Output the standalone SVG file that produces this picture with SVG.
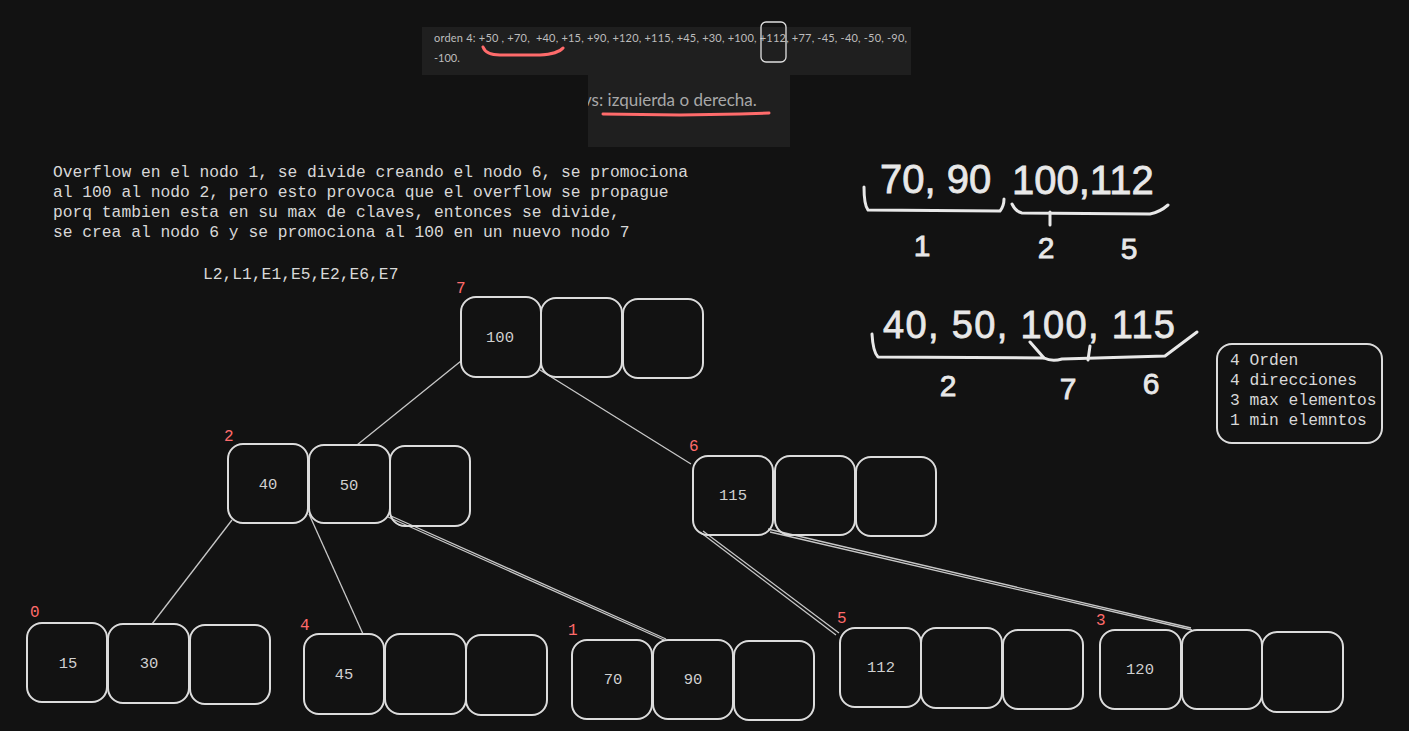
<svg xmlns="http://www.w3.org/2000/svg" width="1409" height="731" viewBox="0 0 1409 731">
<defs>
<style>
.bg{fill:#121212}
.panel{fill:#1f1f1f}
.cell{fill:none;stroke:#dcdcdc;stroke-width:2}
.key{font-family:"Liberation Mono","DejaVu Sans Mono",monospace;font-size:15.5px;fill:#d0d0d0;text-anchor:middle}
.lbl{font-family:"Liberation Mono","DejaVu Sans Mono",monospace;font-size:16px;fill:#ff6b6b}
.mono{font-family:"Liberation Mono","DejaVu Sans Mono",monospace;font-size:16.3px;fill:#d8d8d8}
.hand{font-family:"Liberation Sans","DejaVu Sans",sans-serif;fill:#e8e8e8;stroke:#e8e8e8;stroke-width:0.8}
.hstroke{fill:none;stroke:#e8e8e8;stroke-width:3;stroke-linecap:round;stroke-linejoin:round}
.red{fill:none;stroke:#ff6b6b;stroke-width:3;stroke-linecap:round}
.edge{stroke:#c8c8c8;stroke-width:1.3;fill:none}
</style>
<clipPath id="p2"><rect x="588" y="75" width="202" height="72"/></clipPath>
</defs>
<rect class="bg" x="0" y="0" width="1409" height="731"/>

<g id="screenshot">
<rect class="panel" x="422" y="27" width="489" height="48"/>
<rect class="panel" x="588" y="75" width="202" height="72"/>
<text x="434" y="42" style="white-space:pre" font-family="Lato,'Liberation Sans',sans-serif" font-size="11" fill="#bdbdbd" textLength="473" lengthAdjust="spacing">orden 4: +50 , +70,  +40, +15, +90, +120, +115, +45, +30, +100, +112, +77, -45, -40, -50, -90,</text>
<text x="434" y="62" font-family="Lato,'Liberation Sans',sans-serif" font-size="11" fill="#bdbdbd">-100.</text>
<path class="red" d="M483 47 Q486 55 500 55 L540 55 Q558 54 563 48"/>
<rect x="761" y="22" width="25" height="40" rx="5" fill="none" stroke="#e0e0e0" stroke-width="1.3"/>
<text x="583" y="106" clip-path="url(#p2)" font-family="Lato,'Liberation Sans',sans-serif" font-size="17" fill="#a8a8a8">vs: izquierda o derecha.</text>
<path class="red" d="M603 114 L680 115 L740 114 L769 113"/>
</g>

<g id="explanation">
<text class="mono" x="53" y="177">Overflow en el nodo 1, se divide creando el nodo 6, se promociona</text>
<text class="mono" x="53" y="197">al 100 al nodo 2, pero esto provoca que el overflow se propague</text>
<text class="mono" x="53" y="217">porq tambien esta en su max de claves, entonces se divide,</text>
<text class="mono" x="53" y="237">se crea al nodo 6 y se promociona al 100 en un nuevo nodo 7</text>
<text class="mono" x="203" y="279">L2,L1,E1,E5,E2,E6,E7</text>
</g>

<g id="handwritten1">
<text class="hand" x="880" y="193" font-size="40">70, 90</text>
<text class="hand" x="1012" y="194" font-size="40">100,112</text>
<path class="hstroke" d="M864 187 Q864 205 868 210 L1000 211 Q1004 206 1004 199"/>
<path class="hstroke" d="M1012 204 Q1016 212 1022 213 L1150 214 Q1160 212 1168 205"/>
<path class="hstroke" d="M1050 212 L1050 225"/>
<text class="hand" x="922" y="256" font-size="30" text-anchor="middle">1</text>
<text class="hand" x="1046" y="258" font-size="30" text-anchor="middle">2</text>
<text class="hand" x="1129" y="259" font-size="30" text-anchor="middle">5</text>
</g>

<g id="handwritten2">
<text class="hand" x="883" y="338" font-size="38" textLength="292" lengthAdjust="spacing">40, 50, 100, 115</text>
<path class="hstroke" d="M872 334 Q873 352 878 357 L1044 358 L1030 342"/>
<path class="hstroke" d="M1044 358 Q1052 362 1062 359 L1165 356 L1197 332"/>
<path class="hstroke" d="M1090 346 L1088 360"/>
<text class="hand" x="948" y="396" font-size="30" text-anchor="middle">2</text>
<text class="hand" x="1068" y="399" font-size="30" text-anchor="middle">7</text>
<text class="hand" x="1151" y="394" font-size="30" text-anchor="middle">6</text>
</g>

<g id="legend">
<rect class="cell" x="1217" y="344" width="165" height="99" rx="15"/>
<text class="mono" x="1230" y="365">4 Orden</text>
<text class="mono" x="1230" y="385">4 direcciones</text>
<text class="mono" x="1230" y="405">3 max elementos</text>
<text class="mono" x="1230" y="425">1 min elemntos</text>
</g>

<g id="connectors">
<line class="edge" x1="461" y1="361" x2="357" y2="445"/>
<line class="edge" x1="540" y1="370" x2="691" y2="464"/>
<line class="edge" x1="232" y1="520" x2="152" y2="624"/>
<line class="edge" x1="309" y1="514" x2="363" y2="634"/>
<line class="edge" x1="388" y1="517" x2="664" y2="640"/>
<line class="edge" x1="391" y1="516" x2="666" y2="639"/>
<line class="edge" x1="700" y1="532" x2="836" y2="635"/>
<line class="edge" x1="703" y1="531" x2="839" y2="633"/>
<line class="edge" x1="768" y1="529" x2="1191" y2="628"/>
<line class="edge" x1="770" y1="532" x2="1192" y2="630"/>
</g>

<g id="node7">
<text class="lbl" x="456" y="293">7</text>
<rect class="cell" x="461" y="297" width="80" height="80" rx="15"/>
<rect class="cell" x="541" y="298" width="81" height="79" rx="15"/>
<rect class="cell" x="623" y="299" width="80" height="79" rx="15"/>
<text class="key" x="500" y="342">100</text>
</g>

<g id="node2">
<text class="lbl" x="224" y="441">2</text>
<rect class="cell" x="228" y="444" width="80" height="79" rx="15"/>
<rect class="cell" x="309" y="445" width="81" height="78" rx="15"/>
<rect class="cell" x="390" y="446" width="80" height="80" rx="15"/>
<text class="key" x="268" y="489">40</text>
<text class="key" x="349" y="490">50</text>
</g>

<g id="node6">
<text class="lbl" x="689" y="451">6</text>
<rect class="cell" x="693" y="456" width="80" height="79" rx="15"/>
<rect class="cell" x="775" y="456" width="80" height="79" rx="15"/>
<rect class="cell" x="856" y="457" width="80" height="79" rx="15"/>
<text class="key" x="733" y="500">115</text>
</g>

<g id="node0">
<text class="lbl" x="30" y="617">0</text>
<rect class="cell" x="27" y="623" width="80" height="79" rx="15"/>
<rect class="cell" x="108" y="624" width="81" height="79" rx="15"/>
<rect class="cell" x="190" y="625" width="80" height="79" rx="15"/>
<text class="key" x="68" y="668">15</text>
<text class="key" x="149" y="668">30</text>
</g>

<g id="node4">
<text class="lbl" x="300" y="630">4</text>
<rect class="cell" x="304" y="634" width="80" height="80" rx="15"/>
<rect class="cell" x="385" y="634" width="81" height="80" rx="15"/>
<rect class="cell" x="466" y="635" width="81" height="80" rx="15"/>
<text class="key" x="344" y="679">45</text>
</g>

<g id="node1">
<text class="lbl" x="568" y="635">1</text>
<rect class="cell" x="572" y="640" width="80" height="79" rx="15"/>
<rect class="cell" x="653" y="640" width="80" height="79" rx="15"/>
<rect class="cell" x="734" y="641" width="80" height="79" rx="15"/>
<text class="key" x="613" y="684">70</text>
<text class="key" x="693" y="684">90</text>
</g>

<g id="node5">
<text class="lbl" x="837" y="623">5</text>
<rect class="cell" x="840" y="628" width="81" height="79" rx="15"/>
<rect class="cell" x="921" y="628" width="81" height="80" rx="15"/>
<rect class="cell" x="1003" y="630" width="80" height="79" rx="15"/>
<text class="key" x="881" y="672">112</text>
</g>

<g id="node3">
<text class="lbl" x="1096" y="625">3</text>
<rect class="cell" x="1100" y="630" width="81" height="79" rx="15"/>
<rect class="cell" x="1182" y="630" width="80" height="79" rx="15"/>
<rect class="cell" x="1262" y="632" width="81" height="80" rx="15"/>
<text class="key" x="1140" y="674">120</text>
</g>
</svg>
